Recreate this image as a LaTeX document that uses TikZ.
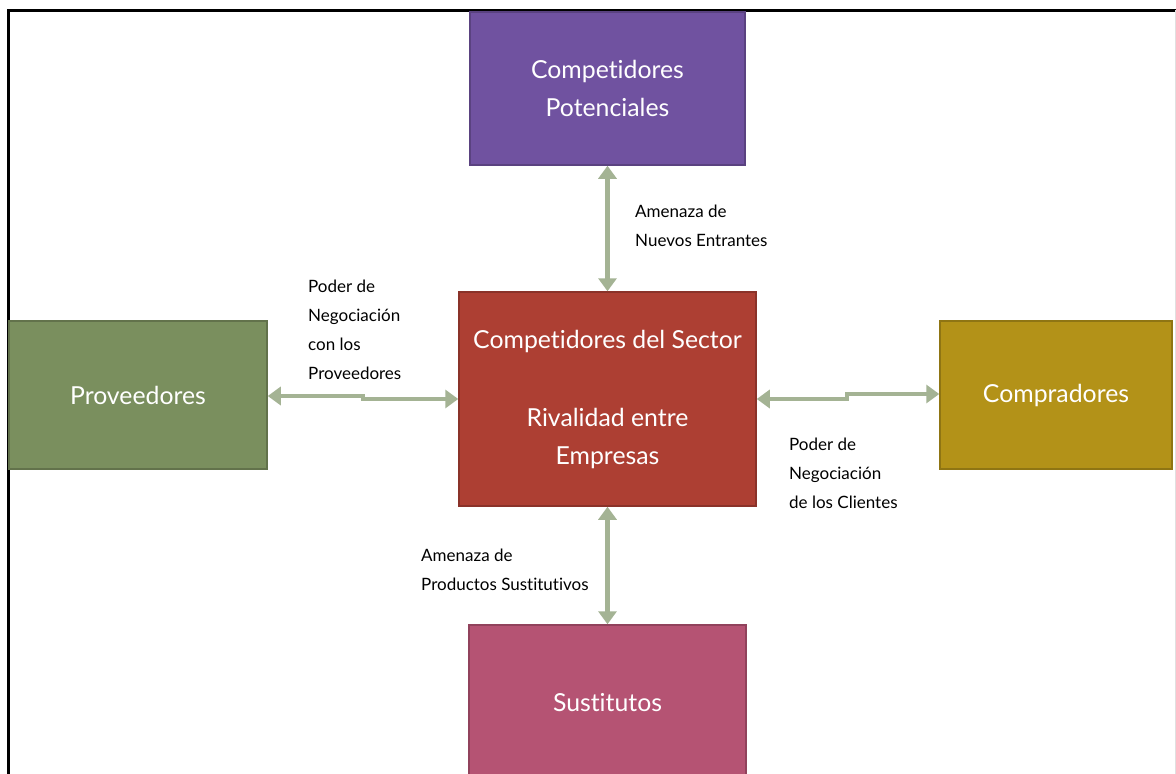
\documentclass[tikz,border=0pt]{standalone}
\usepackage{fontspec}
\setmainfont{Lato}[Ligatures=NoCommon]
\usetikzlibrary{arrows.meta}
\definecolor{cpur}{RGB}{112,82,160}
\definecolor{cred}{RGB}{173,63,51}
\definecolor{cgrn}{RGB}{122,143,94}
\definecolor{cmus}{RGB}{179,146,24}
\definecolor{cpnk}{RGB}{181,83,115}
\definecolor{carr}{RGB}{164,179,148}
\tikzset{
  box/.style={draw=#1!80!black, fill=#1, line width=1.5pt, text=white, align=center,
    font=\fontsize{24.8}{38}\selectfont, inner sep=0pt},
  lbl/.style={anchor=west, align=left, inner sep=0pt, text=black,
    font=\fontsize{17}{29}\selectfont},
  conn/.style={draw=carr, line width=4.5pt,
    {Triangle[width=18pt,length=13pt]}-{Triangle[width=18pt,length=13pt]}}
}
\begin{document}
\begin{tikzpicture}[x=1pt,y=-1pt]
\useasboundingbox (0,0) rectangle (1176,774);
\clip (0,0) rectangle (1176,774);
\fill[white] (0,0) rectangle (1176,774);
% frame
\draw[black, line width=3pt] (8,790) -- (8,10) -- (1180,10);
\draw[black!12, line width=1pt] (1175,10) -- (1175,790);
% boxes
\node[box=cpur, minimum width=275pt, minimum height=153pt] (pot) at (607.5,88.5)
  {Competidores\\Potenciales};
\node[box=cred, minimum width=297pt, minimum height=214pt] (sec) at (607.5,399)
  {Competidores del Sector\\[40pt]Rivalidad entre\\Empresas};
\node[box=cgrn, minimum width=258pt, minimum height=148pt] (prov) at (138,395)
  {Proveedores};
\node[box=cmus, minimum width=232pt, minimum height=148pt] (comp) at (1056,395)
  {Compradores};
\node[box=cpnk, minimum width=277pt, minimum height=155pt] (sus) at (607.5,702.5)
  {Sustitutos};
% connectors
\draw[conn] (pot.south) -- (sec.north);
\draw[conn] (sec.south) -- (sus.north);
\draw[conn] ([yshift=-1pt]prov.east) -- (363,396) -- (363,399) -- (sec.west);
\draw[conn] (sec.east) -- (847,399) -- (847,394) -- ([yshift=1pt]comp.west);
% labels
\node[lbl] (lnue) at (635,225.5) {Amenaza de\\Nuevos Entrantes};
\node[lbl] (lpro) at (308,330) {Poder de\\Negociación\\con los\\Proveedores};
\node[lbl] (lsus) at (421,569.5) {Amenaza de\\Productos Sustitutivos};
\node[lbl] (lcli) at (789,473.5) {Poder de\\Negociación\\de los Clientes};
\end{tikzpicture}
\end{document}
